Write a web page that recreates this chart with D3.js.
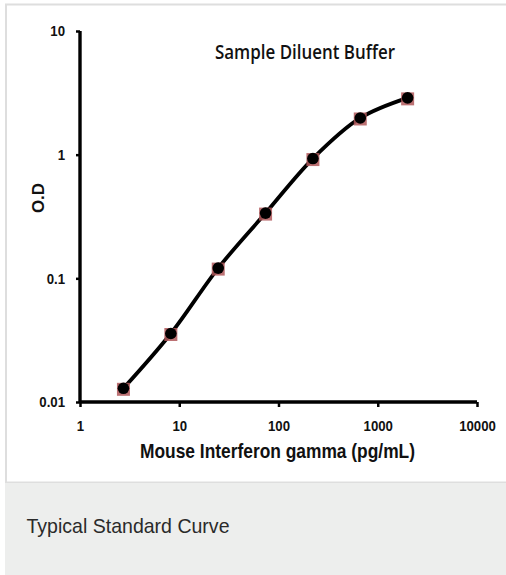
<!DOCTYPE html>
<html><head><meta charset="utf-8">
<script src="https://cdn.jsdelivr.net/npm/d3@7"></script>
<style>
html,body{margin:0;padding:0;background:#fff;}
svg{display:block;}
</style></head>
<body>
<svg id="c" width="506" height="575"></svg>
<script>
const concentrations = [2.74, 8.23, 24.7, 74.1, 222.2, 666.7, 2000];
const odValues = [0.0129, 0.0358, 0.121, 0.337, 0.93, 1.98, 2.88];
const xTicks = [1, 10, 100, 1000, 10000];
const yTicks = [0.01, 0.1, 1, 10];
const title = "Sample Diluent Buffer";
const xLabel = "Mouse Interferon gamma (pg/mL)";
const yLabel = "O.D";
const caption = "Typical Standard Curve";

const svg = d3.select("#c");
svg.append("rect").attr("x",0).attr("y",0).attr("width",506).attr("height",575).attr("fill","#fff");
svg.append("rect").attr("x",6).attr("y",4.5).attr("width",510).attr("height",478).attr("fill","#fff")
  .attr("stroke","#dedede").attr("stroke-width",2);
svg.append("rect").attr("x",5).attr("y",483).attr("width",501).attr("height",92).attr("fill","#edeeed");

function squeeze(sel, factor){
  sel.each(function(){
    const w = this.getComputedTextLength();
    d3.select(this).attr("textLength", w*factor).attr("lengthAdjust","spacingAndGlyphs");
  });
}
function fitTo(sel, width){
  sel.attr("textLength", width).attr("lengthAdjust","spacingAndGlyphs");
}

const cap = svg.append("text").attr("x",26.5).attr("y",532.7).text(caption)
  .attr("font-family","'Liberation Sans', Arial, sans-serif").attr("font-size",21).attr("fill","#2a2a2a");
fitTo(cap, 203);

const x = d3.scaleLog().domain([1,10000]).range([80,477]);
const y = d3.scaleLog().domain([0.01,10]).range([402,31]);

const tickFont = "'Liberation Sans', Arial, sans-serif";

const gx = svg.append("g").attr("transform","translate(0,402)")
  .call(d3.axisBottom(x).tickValues(xTicks).tickFormat(d3.format("d")).tickSize(5).tickPadding(13));
const gy = svg.append("g").attr("transform","translate(80,0)")
  .call(d3.axisLeft(y).tickValues(yTicks).tickFormat(d=>String(d)).tickSize(4).tickPadding(11));
[gx,gy].forEach(g=>{
  g.select(".domain").attr("stroke","#000").attr("stroke-width",3.4);
  g.selectAll(".tick line").attr("stroke","#000").attr("stroke-width",2.5);
  g.selectAll(".tick text").attr("font-family",tickFont).attr("font-weight","bold")
    .attr("font-size",15).attr("fill","#111");
  squeeze(g.selectAll(".tick text"), 0.88);
});
gy.select(".domain").attr("d","M0,31V402");
gx.select(".domain").attr("d","M80,0H477");

const pts = concentrations.map((c,i)=>[x(c), y(odValues[i])]);
svg.append("path").attr("d", d3.line().curve(d3.curveCatmullRom.alpha(0.5))(pts))
  .attr("fill","none").attr("stroke","#000").attr("stroke-width",3.8);

const mk = svg.append("g");
concentrations.forEach((c,i)=>{
  mk.append("rect").attr("x",x(c)-6.5).attr("y",y(odValues[i])-5.5).attr("width",13).attr("height",13)
    .attr("fill","#b0585a").attr("opacity",0.85);
  mk.append("circle").attr("cx",x(c)).attr("cy",y(odValues[i])).attr("r",5.8).attr("fill","#000");
});

const t = svg.append("text").attr("x",305).attr("y",59).attr("text-anchor","middle").text(title)
  .attr("font-family","'Open Sans', sans-serif").attr("font-weight",600).attr("font-size",20).attr("fill","#111");
fitTo(t, 180);
const xl = svg.append("text").attr("x",277.5).attr("y",458).attr("text-anchor","middle").text(xLabel)
  .attr("font-family",tickFont).attr("font-weight","bold").attr("font-size",20.5).attr("fill","#111");
fitTo(xl, 275);
svg.append("text").attr("transform","translate(44,198) rotate(-90)").attr("text-anchor","middle").text(yLabel)
  .attr("font-family","'Liberation Sans', Arial, sans-serif").attr("font-weight","bold").attr("font-size",17).attr("fill","#111");
</script>
</body></html>
